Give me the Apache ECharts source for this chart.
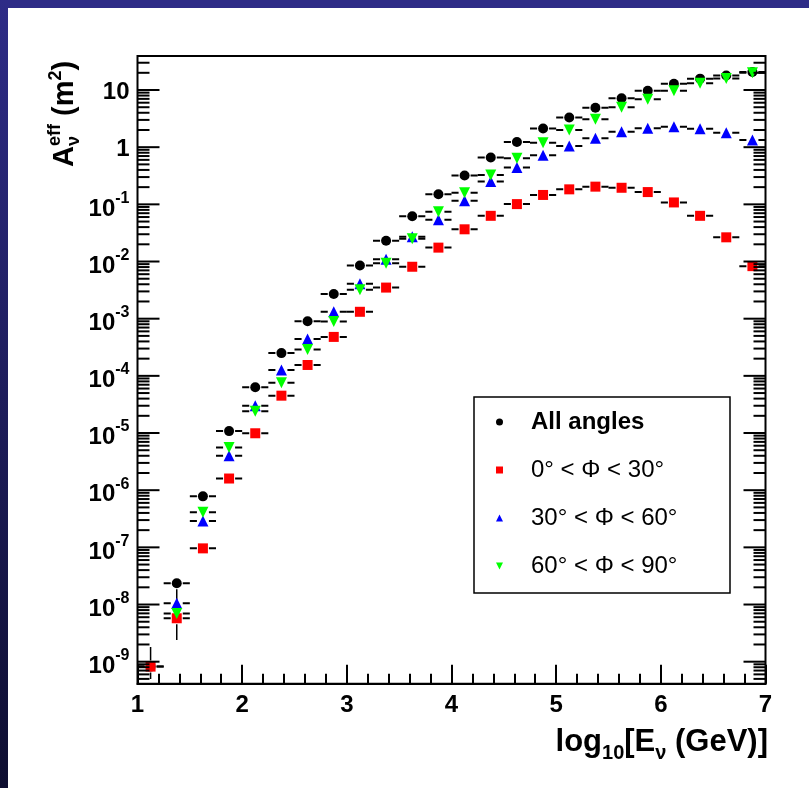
<!DOCTYPE html>
<html>
<head>
<meta charset="utf-8">
<title>Effective area</title>
<script src="https://cdn.jsdelivr.net/npm/echarts@6/dist/echarts.min.js"></script>
<style>
  html, body { margin: 0; padding: 0; background: #fff; }
  #page { position: relative; width: 809px; height: 788px; background: #fff; overflow: hidden; }
  #chart { position: absolute; left: 0; top: 0; width: 809px; height: 788px; }
  #bandTop { position: absolute; left: 0; top: 0; width: 809px; height: 8px; background: #2e2c87; }
  #bandLeft { position: absolute; left: 0; top: 0; width: 8px; height: 788px;
              background: linear-gradient(#2e2c87, #0e0e30); }
</style>
</head>
<body>
<div id="page">
  <div id="chart"></div>
  <div id="bandTop"></div>
  <div id="bandLeft"></div>
</div>
<script>
// Bin centres in log10(E / GeV), bins 0.25 wide
const logE = [1.125, 1.375, 1.625, 1.875, 2.125, 2.375, 2.625, 2.875, 3.125, 3.375, 3.625, 3.875,
              4.125, 4.375, 4.625, 4.875, 5.125, 5.375, 5.625, 5.875, 6.125, 6.375, 6.625, 6.875];
const binHalfWidth = 0.125;

// Effective area (m^2) per bin
const allAngles = [8.2e-10, 2.35e-8, 7.8e-7, 1.08e-5, 6.3e-5, 2.5e-4, 9.0e-4, 2.7e-3, 8.5e-3, 0.0231, 0.062, 0.15,
                   0.32, 0.66, 1.23, 2.12, 3.3, 4.9, 7.2, 9.7, 12.9, 15.8, 18.0, 20.7];
const phi0to30 = [8.2e-10, 5.75e-9, 9.6e-8, 1.6e-6, 9.9e-6, 4.5e-5, 1.55e-4, 4.8e-4, 1.32e-3, 3.5e-3, 8.1e-3, 0.0175,
                  0.0366, 0.063, 0.101, 0.146, 0.183, 0.204, 0.195, 0.164, 0.108, 0.063, 0.0265, 0.0083];
const phi30to60 = [null, 1.05e-8, 2.9e-7, 4.0e-6, 3.0e-5, 1.26e-4, 4.4e-4, 1.32e-3, 4.1e-3, 0.011, 0.027, 0.054,
                   0.116, 0.25, 0.44, 0.72, 1.05, 1.43, 1.86, 2.14, 2.28, 2.1, 1.79, 1.33];
const phi60to90 = [null, 7.0e-9, 4.1e-7, 5.6e-6, 2.4e-5, 7.6e-5, 2.9e-4, 8.9e-4, 3.2e-3, 9.3e-3, 0.025, 0.074,
                   0.16, 0.326, 0.64, 1.2, 2.0, 3.07, 4.97, 6.9, 9.7, 13.1, 15.9, 20.0];

// Vertical error limits (only the low-statistics bins carry visible ones)
const allLow   = [null, 1.2e-8, null, null, null, null, null, null, null, null, null, null,
                  null, null, null, null, null, null, null, null, null, null, null, null];
const allHigh  = allLow.map(() => null);
const redLow   = [5.0e-10, 2.4e-9, null, null, null, null, null, null, null, null, null, null,
                  null, null, null, null, null, null, null, null, null, null, null, null];
const redHigh  = [1.8e-9, 9.0e-9, null, null, null, null, null, null, null, null, null, null,
                  null, null, null, null, null, null, null, null, null, null, null, null];
const noErr    = logE.map(() => null);

// Axis tick values
const xTicks = [1, 2, 3, 4, 5, 6, 7];
const yDecades = [-10, -9, -8, -7, -6, -5, -4, -3, -2, -1, 0, 1];
const yLabelledDecades = [-9, -8, -7, -6, -5, -4, -3, -2, -1, 0, 1];
const yMinorMantissas = [2, 3, 4, 5, 6, 7, 8, 9];
const yMinExp = -9.385, yMaxExp = 1.595;

const legendNames = ['All angles', '0\u00b0 < \u03a6 < 30\u00b0', '30\u00b0 < \u03a6 < 60\u00b0', '60\u00b0 < \u03a6 < 90\u00b0'];

const FONT = '"Liberation Sans", Arial, Helvetica, sans-serif';
const measureCtx = document.createElement('canvas').getContext('2d');
function textWidth(str, size, weight) {
  measureCtx.font = (weight || 'normal') + ' ' + size + 'px ' + FONT;
  return measureCtx.measureText(str).width;
}
// text element placed by its alphabetic baseline
function baseText(x, baseline, str, size, align, weight) {
  return {
    type: 'text', x: x, y: baseline - 0.31 * size,
    style: { text: str, fontSize: size, fontFamily: FONT, fontWeight: weight || 'normal', fill: '#000',
             align: align || 'left', verticalAlign: 'middle' }
  };
}
// sequence of pieces with sub/superscripts; stacked pieces share the previous x
function scriptRow(pieces, weight) {
  let x = 0, lastX = 0;
  const children = [];
  pieces.forEach(p => {
    const px = p.stack ? lastX : x;
    children.push(baseText(px, p.dy || 0, p.text, p.size, 'left', weight));
    const w = textWidth(p.text, p.size, weight);
    if (p.stack) { x = Math.max(x, px + w); } else { lastX = x; x = px + w; }
  });
  return { children: children, width: x };
}

const TICK_SIZE = 24, SUP_SIZE = 16, LABEL_WEIGHT = 'bold';
function yLabel(e, right, py) {
  if (e === 1 || e === 0) {
    return [baseText(right, py + 9.5, e === 1 ? '10' : '1', TICK_SIZE, 'right', LABEL_WEIGHT)];
  }
  const sup = String(e);
  const wSup = textWidth(sup, SUP_SIZE, LABEL_WEIGHT);
  return [
    baseText(right - wSup, py + 12, '10', TICK_SIZE, 'right', LABEL_WEIGHT),
    baseText(right, py - 1, sup, SUP_SIZE, 'right', LABEL_WEIGHT)
  ];
}

// y tick data: value, major flag, exponent
const yTickData = [];
yDecades.forEach(e => {
  [1].concat(yMinorMantissas).forEach(m => {
    const v = m * Math.pow(10, e);
    const lv = Math.log10(v);
    if (lv >= yMinExp && lv <= yMaxExp) {
      yTickData.push([1, v, m === 1 && yLabelledDecades.indexOf(e) >= 0 ? 1 : 0, e]);
    }
  });
});

const tickSeries = {
  type: 'custom',
  coordinateSystem: 'cartesian2d',
  clip: false,
  silent: true,
  z: 5,
  data: yTickData,
  encode: { x: 0, y: 1 },
  renderItem: function (params, api) {
    const cs = params.coordSys;
    const v = api.value(1), major = api.value(2) === 1, e = api.value(3);
    const py = api.coord([1, v])[1];
    const len = major ? 22 : 12;
    const ls = { stroke: '#000', lineWidth: 2 };
    const children = [
      { type: 'line', shape: { x1: cs.x, y1: py, x2: cs.x + len, y2: py }, style: ls },
      { type: 'line', shape: { x1: cs.x + cs.width - len, y1: py, x2: cs.x + cs.width, y2: py }, style: ls }
    ];
    if (major) { yLabel(e, cs.x - 8, py).forEach(c => children.push(c)); }
    return { type: 'group', children: children };
  }
};

function errorSeries(values, lows, highs) {
  const data = [];
  logE.forEach((x, i) => {
    if (values[i] != null) data.push([x, values[i], lows[i] == null ? NaN : lows[i], highs[i] == null ? NaN : highs[i]]);
  });
  return {
    type: 'custom',
    coordinateSystem: 'cartesian2d',
    clip: true,
    silent: true,
    data: data,
    encode: { x: 0, y: 1 },
    renderItem: function (params, api) {
      const x = api.value(0), y = api.value(1);
      const c = api.coord([x, y]);
      const l = api.coord([x - binHalfWidth, y]);
      const r = api.coord([x + binHalfWidth, y]);
      const gap = 6;
      const ls = { stroke: '#000', lineWidth: 2 };
      const children = [
        { type: 'line', shape: { x1: l[0], y1: c[1], x2: c[0] - gap, y2: c[1] }, style: ls },
        { type: 'line', shape: { x1: c[0] + gap, y1: c[1], x2: r[0], y2: c[1] }, style: ls }
      ];
      const lo = api.value(2), hi = api.value(3);
      if (!isNaN(lo)) {
        const pl = api.coord([x, lo])[1];
        children.push({ type: 'line', shape: { x1: c[0], y1: c[1] + gap, x2: c[0], y2: pl }, style: { stroke: '#000', lineWidth: 1.5 } });
      }
      if (!isNaN(hi)) {
        const ph = api.coord([x, hi])[1];
        children.push({ type: 'line', shape: { x1: c[0], y1: c[1] - gap, x2: c[0], y2: ph }, style: { stroke: '#000', lineWidth: 1.5 } });
      }
      return { type: 'group', children: children };
    }
  };
}

function markerSeries(name, values, symbol, color, size, rotate) {
  const data = [];
  logE.forEach((x, i) => { if (values[i] != null) data.push([x, values[i]]); });
  return {
    type: 'scatter', name: name, data: data,
    symbol: symbol, symbolSize: size, symbolRotate: rotate || 0,
    itemStyle: { color: color, opacity: 1 },
    emphasis: { disabled: true },
    z: 3
  };
}

// axis titles
const xTitle = scriptRow([
  { text: 'log', size: 31 },
  { text: '10', size: 20, dy: 8 },
  { text: '[E', size: 31 },
  { text: '\u03bd', size: 20, dy: 8 },
  { text: ' (GeV)]', size: 31 }
], 'bold');
const yTitle = scriptRow([
  { text: 'A', size: 29 },
  { text: '\u03bd', size: 18, dy: 6 },
  { text: 'eff', size: 18, dy: -13, stack: true },
  { text: ' (m', size: 29 },
  { text: '2', size: 18, dy: -12 },
  { text: ')', size: 29 }
], 'bold');

const chart = echarts.init(document.getElementById('chart'), null, { renderer: 'canvas' });
chart.setOption({
  animation: false,
  backgroundColor: '#fff',
  grid: {
    left: 137.5, right: 43.5, top: 56, bottom: 104.3,
    show: true, borderColor: '#000', borderWidth: 2, backgroundColor: 'transparent',
    containLabel: false, outerBoundsMode: 'none'
  },
  xAxis: {
    type: 'value', min: xTicks[0], max: xTicks[xTicks.length - 1], interval: 1,
    axisLine: { show: true, onZero: false, lineStyle: { color: '#000', width: 2 } },
    axisTick: { show: true, inside: true, length: 19, lineStyle: { color: '#000', width: 2 } },
    minorTick: { show: true, splitNumber: 5, length: 10, lineStyle: { color: '#000', width: 2 } },
    axisLabel: { fontSize: TICK_SIZE, fontWeight: LABEL_WEIGHT, color: '#000', fontFamily: FONT, margin: 10 },
    splitLine: { show: false }
  },
  yAxis: {
    type: 'log', logBase: 10,
    min: Math.pow(10, yMinExp), max: Math.pow(10, yMaxExp),
    axisLine: { show: false }, axisTick: { show: false }, axisLabel: { show: false },
    splitLine: { show: false }, minorTick: { show: false }
  },
  legend: {
    orient: 'vertical', left: 474, top: 397,
    padding: [11, 19, 13, 22], itemGap: 20,
    itemWidth: 7, itemHeight: 7,
    selectedMode: false,
    borderColor: '#000', borderWidth: 1.5, backgroundColor: '#fff',
    textStyle: { fontSize: 24, fontFamily: FONT, color: '#000', width: 180, lineHeight: 28, padding: [0, 0, 0, 23] },
    data: [
      { name: legendNames[0], icon: 'circle', textStyle: { fontWeight: 'bold' } },
      { name: legendNames[1], icon: 'rect' },
      { name: legendNames[2], icon: 'triangle' },
      { name: legendNames[3], icon: 'path://M0,0L10,0L5,10Z' }
    ]
  },
  graphic: [
    { type: 'group', x: 768 - xTitle.width, y: 752, children: xTitle.children, silent: true },
    { type: 'group', x: 74, y: 167, rotation: Math.PI / 2, children: yTitle.children, silent: true }
  ],
  series: [
    tickSeries,
    errorSeries(allAngles, allLow, allHigh),
    markerSeries(legendNames[0], allAngles, 'circle', '#000000', 10),
    errorSeries(phi0to30, redLow, redHigh),
    markerSeries(legendNames[1], phi0to30, 'rect', '#ff0000', 10),
    errorSeries(phi30to60, noErr, noErr),
    markerSeries(legendNames[2], phi30to60, 'triangle', '#0000ff', 11),
    errorSeries(phi60to90, noErr, noErr),
    markerSeries(legendNames[3], phi60to90, 'triangle', '#00ff00', 11, 180)
  ]
});
</script>
</body>
</html>
